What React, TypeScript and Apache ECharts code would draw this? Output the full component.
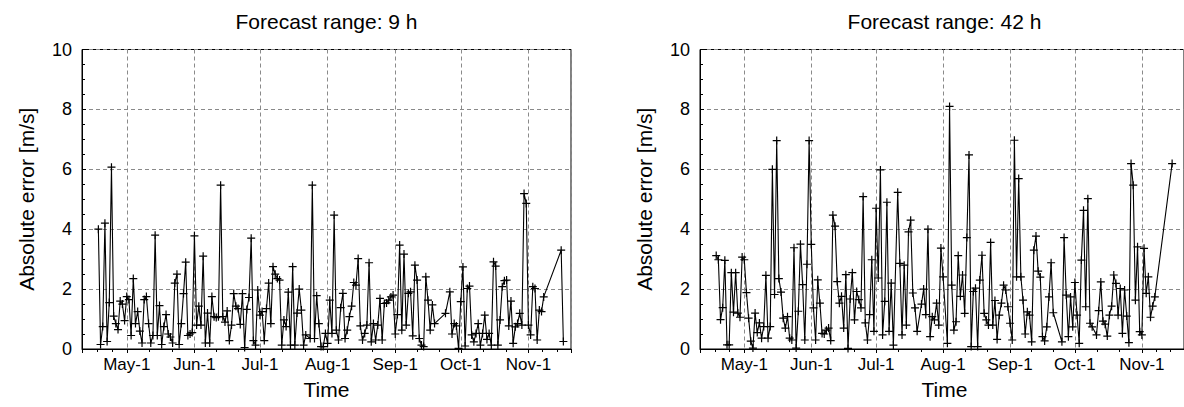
import React, { useEffect, useRef } from 'react';
import * as echarts from 'echarts';

// ---------- data ----------
const YEAR = 2011;
const panelTitles = ['Forecast range: 9 h', 'Forecast range: 42 h'];
const yAxisTitle = 'Absolute error [m/s]';
const xAxisTitle = 'Time';
const monthNames = ['Jan', 'Feb', 'Mar', 'Apr', 'May', 'Jun', 'Jul', 'Aug', 'Sep', 'Oct', 'Nov', 'Dec'];
const monthTickLabels = ['May-1', 'Jun-1', 'Jul-1', 'Aug-1', 'Sep-1', 'Oct-1', 'Nov-1'];
const yTicks = [0, 2, 4, 6, 8, 10];

// 9 h forecast: [day of month, absolute error]
const leftApr = [[18,4.0],[19,0.15],[20,0.75],[21,4.2],[22,0.25],[23,1.55],[24,6.07],[25,1.1],[26,0.85],[27,0.65],[28,1.6],[29,1.5],[30,0.95]];
const leftMay = [[1,1.75],[2,1.65],[3,0.45],[4,2.35],[5,0.85],[6,1.25],[7,0.6],[8,0.2],[9,1.65],[10,1.75],[11,0.85],[12,0.2],[13,0.45],[14,3.8],[15,0.45],[16,1.45],[17,0.15],[18,0.75],[19,1.15],[20,0.5],[21,0.4],[22,0.2],[23,2.2],[24,2.5],[25,0.15],[26,0.85],[27,1.85],[28,2.9],[29,0.45],[30,0.5],[31,0.55]];
const leftJun = [[1,3.78],[2,0.8],[3,1.43],[4,0.8],[5,3.1],[6,0.2],[7,1.2],[8,0.2],[9,1.75],[10,1.08],[11,1.05],[12,1.08],[13,5.47],[14,1.08],[15,0.9],[16,1.27],[17,0.28],[18,0.8],[19,1.85],[20,1.43],[21,1.35],[22,0.82],[23,1.85],[24,0.05],[25,1.32],[26,1.72],[27,3.7],[28,0.28],[29,0.13],[30,1.97]];
const leftJul = [[1,1.13],[2,1.25],[3,0.28],[4,1.35],[5,2.2],[6,0.85],[7,2.75],[8,2.5],[9,2.35],[10,2.3],[11,0.13],[12,0.97],[13,0.75],[14,1.9],[15,0.13],[16,2.75],[17,0.13],[18,1.2],[19,2.0],[20,1.3],[21,0.13],[22,0.47],[24,0.35],[25,5.47],[26,0.35],[27,1.78],[28,0.85],[29,0.08],[30,0.08],[31,0.52]];
const leftAug = [[1,0.19],[2,1.63],[3,0.52],[4,4.47],[5,0.63],[6,0.3],[7,1.38],[8,1.86],[9,0.35],[10,0.63],[11,1.08],[12,1.43],[13,2.22],[14,2.13],[15,3.02],[16,0.77],[17,0.3],[18,0.52],[19,0.8],[20,2.88],[21,0.24],[22,0.85],[23,0.3],[24,0.8],[25,1.69],[26,0.3],[27,1.52],[28,1.54],[29,1.63],[30,1.74],[31,1.8]];
const leftSep = [[1,0.5],[2,1.15],[3,3.47],[4,0.63],[5,3.17],[6,0.8],[7,1.86],[8,1.91],[9,0.44],[10,2.8],[11,2.3],[12,0.35],[13,0.13],[14,0.08],[15,2.41],[16,1.63],[17,0.63],[18,1.47],[19,0.85],[24,1.19],[26,1.91],[27,0.5],[28,0.85],[29,0.77],[30,0.02]];
const leftOct = [[1,1.58],[2,2.74],[3,0.1],[4,2.02],[5,2.1],[6,0.47],[7,0.24],[8,0.52],[9,0.85],[10,0.13],[11,0.52],[12,1.13],[13,0.32],[14,0.52],[15,0.13],[16,2.91],[17,2.77],[18,0.13],[19,0.97],[20,2.08],[21,2.28],[22,2.3],[23,0.77],[24,1.6],[25,0.19],[26,0.74],[27,0.85],[28,1.19],[29,0.8],[30,5.19],[31,4.86]];
const leftNov = [[1,0.8],[2,0.47],[3,2.08],[4,2.02],[5,0.3],[6,1.3],[7,1.25],[8,1.74],[16,3.3],[17,0.25]];

// 42 h forecast
const rightApr = [[18,3.12],[19,2.98],[20,0.98],[21,1.38],[22,2.96],[23,0.14],[24,0.14],[25,2.55],[26,1.23],[27,2.55],[28,1.2],[29,1.06],[30,3.07]];
const rightMay = [[1,2.98],[2,1.88],[3,1.03],[4,0.26],[5,0.03],[6,1.2],[7,0.55],[8,0.87],[9,0.36],[10,0.75],[11,2.46],[12,0.36],[13,0.75],[14,6.0],[15,1.82],[16,6.96],[17,2.35],[18,1.9],[19,1.03],[20,0.7],[21,1.08],[22,0.36],[23,0.3],[24,3.38],[25,0.03],[26,1.26],[27,3.5],[28,2.15],[29,0.3],[30,2.83],[31,6.96]];
const rightJun = [[1,3.49],[2,1.37],[3,0.3],[4,2.31],[5,1.53],[6,0.52],[7,0.5],[8,0.63],[9,0.7],[10,0.28],[11,4.47],[12,4.1],[13,2.25],[14,1.53],[15,1.76],[16,0.7],[17,2.48],[18,0.02],[19,1.67],[20,2.55],[21,0.97],[22,1.92],[23,1.65],[24,1.37],[25,5.09],[26,0.87],[27,0.3],[28,1.15],[29,2.98],[30,0.59]];
const rightJul = [[1,4.7],[2,2.37],[3,5.98],[4,0.47],[5,1.59],[6,4.9],[7,0.59],[8,2.2],[9,0.13],[11,5.23],[12,2.86],[13,0.47],[14,2.8],[15,0.8],[16,3.91],[17,4.3],[18,1.87],[19,1.37],[20,0.59],[22,1.5],[23,2.0],[24,1.15],[25,4.0],[26,0.41],[27,1.08],[28,0.97],[29,1.53],[30,0.8],[31,3.37]];
const rightAug = [[1,2.41],[3,0.19],[4,8.1],[5,2.13],[6,0.63],[7,0.91],[8,3.12],[9,1.76],[10,2.47],[11,1.19],[12,3.72],[13,6.48],[14,0.08],[15,1.92],[16,2.03],[17,0.08],[18,2.3],[19,3.13],[20,1.19],[21,0.97],[22,0.8],[23,3.56],[24,0.8],[25,1.62],[26,0.32],[27,1.13],[28,1.53],[29,2.13],[30,1.97],[31,1.41]];
const rightSep = [[1,0.86],[2,0.3],[3,6.97],[4,2.41],[5,5.69],[6,2.41],[7,1.63],[8,0.5],[9,1.24],[10,1.13],[11,0.24],[12,3.3],[13,3.77],[14,2.6],[15,2.4],[16,0.41],[17,0.27],[18,0.74],[19,1.74],[20,2.88],[21,1.21],[25,0.24],[26,3.72],[27,1.8],[28,0.41],[29,1.74],[30,0.74]];
const rightOct = [[1,2.22],[2,1.13],[3,0.19],[4,2.97],[5,4.63],[6,1.41],[7,5.02],[8,0.86],[9,0.74],[11,0.47],[12,1.28],[13,2.24],[14,0.93],[15,0.83],[16,0.43],[17,1.13],[18,1.43],[19,2.47],[20,2.19],[21,1.13],[22,2.02],[23,0.52],[24,1.97],[25,1.1],[26,0.21],[27,6.19],[28,5.47],[29,1.63],[30,3.41],[31,0.58]];
const rightNov = [[1,0.47],[2,3.36],[3,1.86],[4,2.41],[5,1.06],[6,1.43],[7,1.74],[15,6.19]];

const leftMonths = [[3, leftApr], [4, leftMay], [5, leftJun], [6, leftJul], [7, leftAug], [8, leftSep], [9, leftOct], [10, leftNov]];
const rightMonths = [[3, rightApr], [4, rightMay], [5, rightJun], [6, rightJul], [7, rightAug], [8, rightSep], [9, rightOct], [10, rightNov]];

// ---------- helpers ----------
const toSeries = (months: any[]) =>
  months.flatMap(([m, arr]: any) => arr.map(([d, v]: number[]) => [Date.UTC(YEAR, m, d), v]));

const X_MIN = Date.UTC(YEAR, 3, 10, 12);
const X_MAX = Date.UTC(YEAR, 10, 20, 12);
const PLUS = 'path://M-0.6,-4H0.6V-0.6H4V0.6H0.6V4H-0.6V0.6H-4V-0.6H-0.6Z';
const FONT = 'Liberation Sans, Arial, Helvetica, sans-serif';

const gridBoxes = [
  { left: 82, top: 49.5, width: 489, height: 299.5 },
  { left: 700, top: 49.5, width: 489, height: 299.5 },
];

export default function App() {
  const ref = useRef<HTMLDivElement>(null);
  useEffect(() => {
    if (!ref.current) return;
    const chart = echarts.init(ref.current, undefined, { renderer: 'svg' });
    const xLabel = (val: number) => {
      const d = new Date(val);
      if (d.getUTCDate() !== 1 || d.getUTCHours() !== 0) return '';
      const name = monthNames[d.getUTCMonth()];
      return monthTickLabels.find((l) => l.startsWith(name)) ?? '';
    };
    const dashed = { show: true, lineStyle: { type: [4, 3], color: '#8a8a8a', width: 1 } };
    const option: any = {
      animation: false,
      useUTC: true,
      backgroundColor: '#fff',
      textStyle: { fontFamily: FONT },
      grid: gridBoxes.map((g) => ({ ...g, show: true, borderColor: '#000', borderWidth: 1, backgroundColor: 'transparent' })),
      xAxis: gridBoxes.map((_, i) => ({
        type: 'time',
        gridIndex: i,
        min: X_MIN,
        max: X_MAX,
        splitNumber: 7,
        axisLine: { show: true, lineStyle: { color: '#000', width: 1 } },
        axisTick: { show: true, inside: false, length: 4, lineStyle: { color: '#000' } },
        minorTick: { show: true, splitNumber: 3, length: 3, lineStyle: { color: '#000' } },
        axisLabel: { formatter: xLabel, fontSize: 17, color: '#000', margin: 7, fontFamily: FONT, hideOverlap: false },
        splitLine: dashed,
      })),
      yAxis: gridBoxes.map((_, i) => ({
        type: 'value',
        gridIndex: i,
        min: yTicks[0],
        max: yTicks[yTicks.length - 1],
        interval: 2,
        axisLine: { show: true, lineStyle: { color: '#000', width: 1 } },
        axisTick: { show: true, inside: true, length: 4, lineStyle: { color: '#000' } },
        minorTick: { show: true, splitNumber: 4, length: 3, lineStyle: { color: '#000' } },
        axisLabel: { fontSize: 18, color: '#000', margin: 10, fontFamily: FONT },
        splitLine: dashed,
      })),
      series: [leftMonths, rightMonths].map((months, i) => ({
        type: 'line',
        xAxisIndex: i,
        yAxisIndex: i,
        data: toSeries(months),
        symbol: PLUS,
        symbolSize: 8,
        showSymbol: true,
        showAllSymbol: true,
        lineStyle: { color: '#000', width: 1.1 },
        itemStyle: { color: '#000' },
        emphasis: { disabled: true },
        z: 5,
      })),
      graphic: gridBoxes.flatMap((g, i) => {
        const cx = g.left + g.width / 2;
        const cy = g.top + g.height / 2;
        return [
          { type: 'text', x: cx, y: 21, style: { text: panelTitles[i], font: `21px ${FONT}`, fill: '#000', textAlign: 'center', textVerticalAlign: 'middle' } },
          { type: 'text', x: cx, y: 389, style: { text: xAxisTitle, font: `21px ${FONT}`, fill: '#000', textAlign: 'center', textVerticalAlign: 'middle' } },
          { type: 'text', x: g.left - 56, y: cy, rotation: Math.PI / 2, style: { text: yAxisTitle, font: `21px ${FONT}`, fill: '#000', textAlign: 'center', textVerticalAlign: 'middle' } },
        ];
      }),
    };
    chart.setOption(option);
    return () => chart.dispose();
  }, []);
  return <div ref={ref} style={{ position: 'fixed', left: 0, top: 0, width: 1184, height: 407 }} />;
}
